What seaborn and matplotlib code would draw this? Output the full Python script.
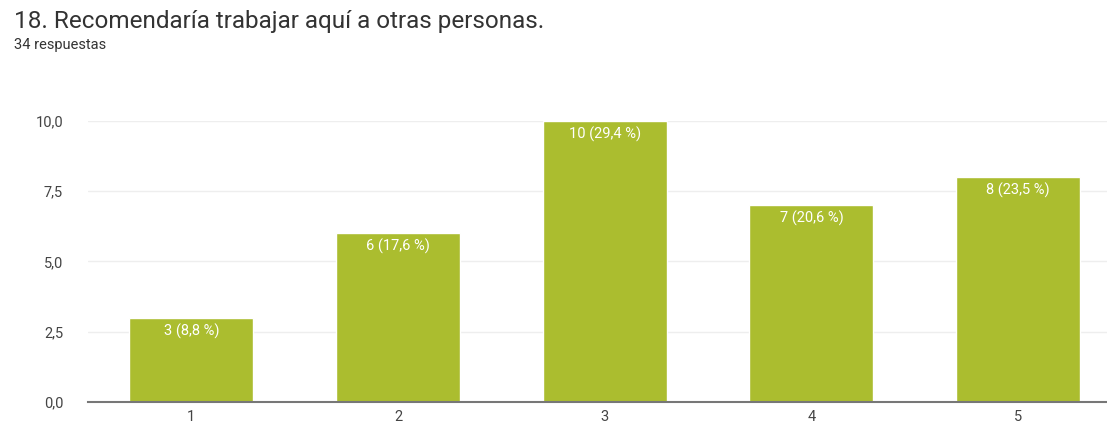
import matplotlib
matplotlib.use("Agg")
import matplotlib.pyplot as plt
import seaborn as sns
import pandas as pd

# Datos de la pregunta 18
categorias = ["1", "2", "3", "4", "5"]
conteos = [3, 6, 10, 7, 8]
etiquetas = ["3 (8,8 %)", "6 (17,6 %)", "10 (29,4 %)", "7 (20,6 %)", "8 (23,5 %)"]
yticks = [0.0, 2.5, 5.0, 7.5, 10.0]
ytick_labels = ["0,0", "2,5", "5,0", "7,5", "10,0"]

titulo = "18. Recomendaría trabajar aquí a otras personas."
subtitulo = "34 respuestas"

sns.set_style("white")
plt.rcParams['font.family'] = ['Roboto', 'DejaVu Sans']

df = pd.DataFrame({"opcion": categorias, "conteo": conteos})

fig = plt.figure(figsize=(11.07, 4.30), dpi=100)
ax = fig.add_axes([0.0795, 0.065, 0.9205, 0.654])

sns.barplot(data=df, x="opcion", y="conteo", color="#abbd2f", width=0.6,
            saturation=1, ax=ax)

# etiquetas blancas dentro de cada barra
for i, (v, t) in enumerate(zip(conteos, etiquetas)):
    ax.annotate(t, (i, v), xytext=(0, -4), textcoords="offset points",
                ha="center", va="top", color="white", fontsize=10.5)

ax.set_xlim(-0.5, 4.43)
ax.set_ylim(0, 10)
ax.set_yticks(yticks)
ax.set_yticklabels(ytick_labels)
ax.yaxis.grid(True, color="#eeeeee", linewidth=1)
ax.set_axisbelow(True)
for s in ["top", "right", "left"]:
    ax.spines[s].set_visible(False)
ax.spines["bottom"].set_color("#777777")
ax.spines["bottom"].set_linewidth(1.5)
ax.tick_params(axis="x", length=0, labelsize=10.5, labelcolor="#444444", pad=6)
ax.tick_params(axis="y", length=0, labelsize=10.5, labelcolor="#444444", pad=18)
ax.set_xlabel("")
ax.set_ylabel("")

fig.text(0.013, 0.949, titulo, fontsize=17.5, color="#333333", va="center")
fig.text(0.013, 0.896, subtitulo, fontsize=10.5, color="#333333", va="center")

fig.savefig("out.png", dpi=100)
